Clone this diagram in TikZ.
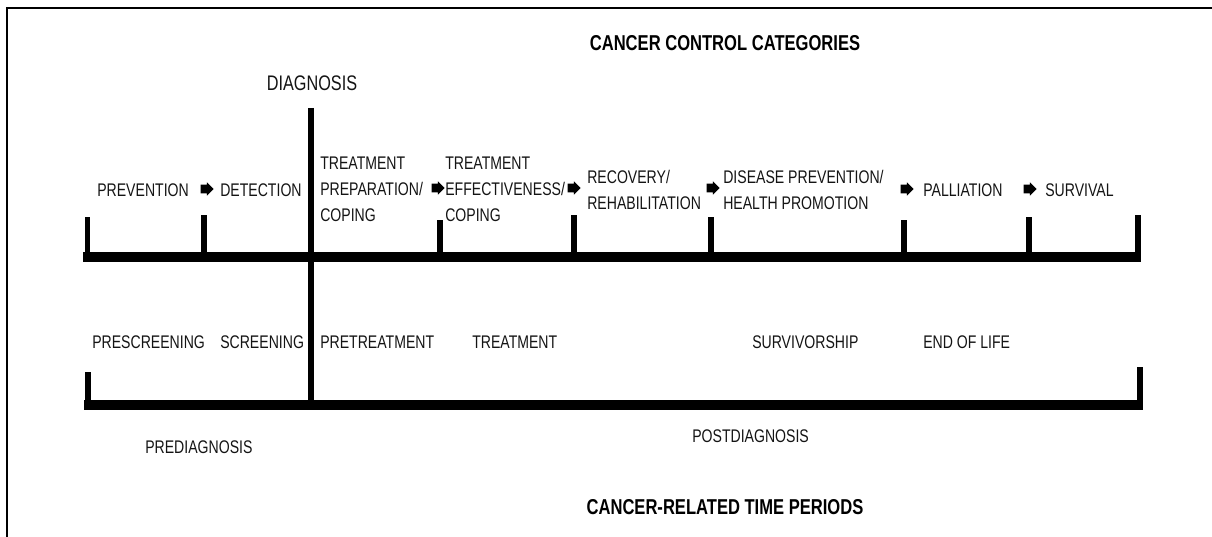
\documentclass[tikz,border=0pt]{standalone}
\usepackage{fontspec}
\setmainfont{Liberation Sans}[FakeStretch=0.77]
\usetikzlibrary{shapes.arrows}

\begin{document}
\begin{tikzpicture}[x=0.025cm, y=-0.025cm,
		lbl/.style={anchor=west, inner sep=0pt, align=left, text=black!92,
			font=\fontsize{13}{18.5}\selectfont},
		heading/.style={inner sep=0pt, font=\fontsize{15.3}{18}\selectfont\bfseries},
		nxt/.style={single arrow, fill=black, draw=none, inner xsep=0pt, inner ysep=0.1cm,
			minimum height=0.32cm, single arrow head extend=0.06cm},
		barline/.style={line width=7.1pt},
		tickmark/.style={line width=3.6pt}]
			\useasboundingbox (0,0) rectangle (1212,537);
			\draw[line width=1.4pt] (7,537) -- (7,8) -- (1212,8);
			
			\node[heading] (ccc) at (725,43) {CANCER CONTROL CATEGORIES};
			\node[lbl, anchor=center, font=\fontsize{15}{18}\selectfont] (diag) at (312,83) {DIAGNOSIS};
			
			% control categories
			\node[lbl] (prev)  at (97,190)  {PREVENTION};
			\node[nxt] (a1)    at (205,189) {};
			\node[lbl] (det)   at (220,190) {DETECTION};
			\node[lbl] (tprep) at (320,189) {TREATMENT\\PREPARATION/\\COPING};
			\node[nxt] (a2)    at (436,188) {};
			\node[lbl] (teff)  at (445,189) {TREATMENT\\EFFECTIVENESS/\\COPING};
			\node[nxt] (a3)    at (572,188) {};
			\node[lbl] (rec)   at (587,190) {RECOVERY/\\REHABILITATION};
			\node[nxt] (a4)    at (711,188) {};
			\node[lbl] (dprev) at (723,190) {DISEASE PREVENTION/\\HEALTH PROMOTION};
			\node[nxt] (a5)    at (905,189) {};
			\node[lbl] (pall)  at (923,190) {PALLIATION};
			\node[nxt] (a6)    at (1028,189) {};
			\node[lbl] (surv)  at (1045,190) {SURVIVAL};
			
			\coordinate (u0) at (83,257);
			\coordinate (u1) at (1141,257);
			\draw[barline] (u0) -- (u1);
			\foreach \x/\h in {87.5/217, 204/215, 440/220, 574/215, 711/217, 904/220, 1029/217, 1138/215}
				\draw[tickmark] (\x,257) -- (\x,\h);
			
			% time periods
			\node[lbl] (presc) at (92,342)  {PRESCREENING};
			\node[lbl] (scr)   at (220,342) {SCREENING};
			\node[lbl] (pretr) at (320,342) {PRETREATMENT};
			\node[lbl] (treat) at (472,342) {TREATMENT};
			\node[lbl] (survs) at (752,342) {SURVIVORSHIP};
			\node[lbl] (eol)   at (923,342) {END OF LIFE};
			
			\coordinate (l0) at (84,405);
			\coordinate (l1) at (1143,405);
			\draw[barline] (l0) -- (l1);
			\draw[tickmark] (88,405) -- (88,372);
			\draw[tickmark] (1140,405) -- (1140,367);
			
			\coordinate (dtop) at (311,108);
			\coordinate (dbot) at (311,409);
			\draw[line width=4.3pt] (dtop) -- (dbot);
			
			\node[lbl] (prediag)  at (145,447) {PREDIAGNOSIS};
			\node[lbl] (postdiag) at (692,436) {POSTDIAGNOSIS};
			\node[heading] (crtp) at (725,507) {CANCER-RELATED TIME PERIODS};
		\end{tikzpicture}
\end{document}
